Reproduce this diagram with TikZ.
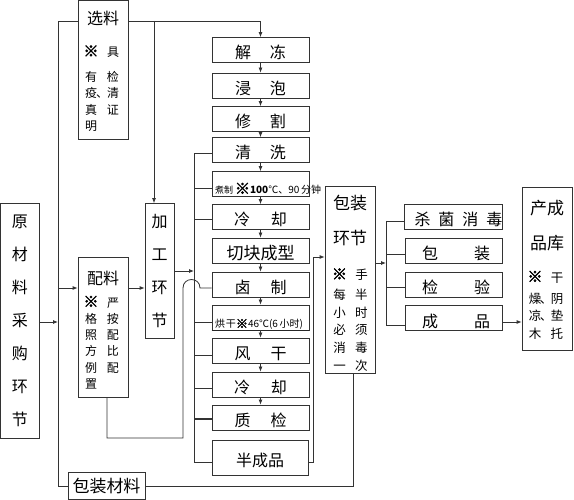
\documentclass[tikz,border=0pt]{standalone}
\usepackage{fontspec}
\setmainfont{Noto Sans CJK SC}
\newfontfamily\kmfont[FakeBold=3]{Noto Sans CJK SC}
\usetikzlibrary{arrows.meta}
\newcommand{\tcol}[3]{\makebox[12pt]{#1}\makebox[10pt]{#2}\makebox[12pt]{#3}}
\newcommand{\kmark}{{\kmfont\fontsize{15}{15}\selectfont ※}}
\begin{document}
\begin{tikzpicture}[x=1pt,y=-1pt,
  line/.style={draw=black!80, line width=0.8pt},
  arr/.style={line, -{Latex[length=5pt,width=4pt]}},
  bx/.style={draw=black!80, line width=0.8pt, inner sep=0pt},
  pbox/.style={bx, minimum width=97, minimum height=25, font=\fontsize{16}{16}\selectfont, text height=18pt, text depth=0pt},
  rbox/.style={bx, minimum width=97, minimum height=25, font=\fontsize{16}{16}\selectfont, text height=19pt, text depth=0pt},
  txt/.style={inner sep=0pt, align=center},
  big/.style={txt, font=\fontsize{16}{16}\selectfont},
  small/.style={txt, align=left, font=\fontsize{12}{16.3}\selectfont}
]
\useasboundingbox (0,0) rectangle (574,500);
\fill[white] (0,0) rectangle (574,500);

% left column boxes
\node[bx, minimum width=50, minimum height=139] (xl) at (103,70) {};
\node[big] (xlh) at (103,18) {选料};
\node[small] (xlt) at (102,88.5) {\tcol{\kmark}{}{具}\\[8.7pt]\tcol{有}{}{检}\\\tcol{疫}{、}{清}\\\tcol{真}{}{证}\\\tcol{明}{}{}};

\node[bx, minimum width=50, minimum height=140] (pl) at (103,327) {};
\node[big] (plh) at (103,278) {配料};
\node[small] (plt) at (102,342.5) {\tcol{\kmark}{}{严}\\\tcol{格}{}{按}\\\tcol{照}{}{配}\\\tcol{方}{}{比}\\\tcol{例}{}{配}\\\tcol{置}{}{}};

\node[bx, minimum width=38.5, minimum height=235, align=center, font=\fontsize{16}{33}\selectfont] (ycl) at (20,320.5) {原\\材\\料\\采\\购\\环\\节};
\node[bx, minimum width=29, minimum height=135, align=center, font=\fontsize{16}{33}\selectfont] (jg) at (159.5,271) {加\\工\\环\\节};
\node[bx, minimum width=77, minimum height=27, font=\fontsize{17}{17}\selectfont] (bzcl) at (106.5,486) {包装材料};

% process stack
\node[pbox] (jd)  at (260.5,50)    {解\hspace{19pt}冻};
\node[pbox] (jp)  at (260.5,85.5)  {浸\hspace{19pt}泡};
\node[pbox] (xg)  at (260.5,119)   {修\hspace{19pt}割};
\node[pbox] (qx)  at (260.5,150)   {清\hspace{19pt}洗};
\node[pbox, text height=20pt] (zz) at (260.5,184) {\makebox[97pt][l]{\hspace{3pt}{\fontsize{9}{9}\selectfont 煮制}\hspace{2pt}{\kmfont\fontsize{15}{15}\selectfont ※}{\fontsize{10}{10}\selectfont\bfseries 100}{\fontsize{10}{10}\selectfont ℃、90\,分钟}}};
\node[pbox] (lqa) at (260.5,217)   {冷\hspace{21pt}却};
\node[pbox, font=\fontsize{17}{17}\selectfont] (qk) at (260.5,250.5) {切块成型};
\node[pbox] (lz)  at (260.5,284.5) {卤\hspace{20pt}制};
\node[pbox, text height=21pt] (hg) at (260.5,317.5) {\makebox[97pt][l]{\hspace{3pt}{\fontsize{10}{10}\selectfont 烘\hspace{1pt}干}{\kmfont\fontsize{12}{12}\selectfont ※}{\fontsize{10}{10}\selectfont 46℃(6\,小时)}}};
\node[pbox] (fg)  at (260.5,350.5) {风\hspace{20pt}干};
\node[pbox] (lqb) at (260.5,384.5) {冷\hspace{21pt}却};
\node[pbox] (zj)  at (260.5,417.5) {质\hspace{20pt}检};
\node[pbox, minimum width=96, minimum height=35, text height=17pt] (bcp) at (260,457.5) {半成品};
\draw[line width=1.6pt, black!85] (hg.south west) -- (hg.south east);

% packaging
\node[bx, minimum width=50, minimum height=187] (bzhj) at (350,279.5) {};
\node[txt, font=\fontsize{17}{17}\selectfont] (bzh1) at (350,203) {包装};
\node[txt, font=\fontsize{17}{17}\selectfont] (bzh2) at (350,238) {环节};
\node[txt, align=left, font=\fontsize{12.5}{17.8}\selectfont] (bzt) at (350.5,320) {\tcol{\kmark}{}{手}\\[2pt]\tcol{每}{}{半}\\\tcol{小}{}{时}\\\tcol{必}{}{须}\\\tcol{消}{}{毒}\\\tcol{一}{}{次}};

% right boxes
\node[rbox] (sj) at (453.5,216.5) {\hspace{10pt}杀\hspace{8pt}菌\hspace{8pt}消\hspace{8pt}毒};
\node[rbox] (bz) at (453.5,250.5) {\hspace{5pt}包\hspace{36pt}装};
\node[rbox] (jy) at (453.5,284.5) {\hspace{5pt}检\hspace{36pt}验};
\node[rbox] (cp) at (453.5,317.5) {\hspace{5pt}成\hspace{36pt}品};

\node[bx, minimum width=50, minimum height=163] (cck) at (547,268.5) {};
\node[txt, font=\fontsize{17}{17}\selectfont] (ck1) at (547,208) {产成};
\node[txt, font=\fontsize{17}{17}\selectfont] (ck2) at (547,243) {品库};
\node[txt, align=left, font=\fontsize{12.5}{17.5}\selectfont] (ckt) at (546,305) {\tcol{\kmark}{}{干}\\[3.5pt]\tcol{燥}{、}{阴}\\\tcol{凉}{、}{垫}\\\tcol{木}{}{托}};

% named coordinates
\coordinate (ytop) at (0,21);
\coordinate (lbus) at (58,0);
\coordinate (cj) at (154,21);
\coordinate (ya) at (0,322);
\coordinate (pa) at (0,288);
\coordinate (ja) at (0,271);
\coordinate (bl) at (194,0);
\coordinate (bb) at (0,462);
\coordinate (br) at (313,0);
\coordinate (pb) at (0,257);
\coordinate (pk) at (353,0);
\coordinate (pd) at (107,0);
\coordinate (hx) at (183,0);
\coordinate (hy) at (0,438);
\coordinate (b3) at (386,0);
\coordinate (hs) at (200,288);

% connectors
\draw[arr] (xl.east |- ytop) -| (jd.north);
\draw[arr] (cj) -- (cj |- jg.north);
\draw[line] (xl.west |- ytop) -| (lbus |- bzcl.west) -- (bzcl.west);
\draw[line] (bzcl.east) -| (pk |- bzhj.south);
\draw[arr] (ycl.east |- ya) -- (lbus |- ya);
\draw[arr] (lbus |- pa) -- (pl.west |- pa);
\draw[arr] (pl.east |- pa) -- (jg.west |- pa);
\draw[arr] (jg.east |- ja) -- (bl |- ja);

\foreach \a/\b in {jd/jp, jp/xg, xg/qx, qx/zz, zz/lqa, lqa/qk, qk/lz, lz/hg, hg/fg, fg/lqb, lqb/zj}
  \draw[arr] (\a.south) -- (\b.north);

\draw[line] (qx.west |- 0,153) -| (bl |- bb) -- (bcp.west |- bb);
\foreach \n/\yy in {zz/188, lqa/219, hg/322, fg/355, lqb/388}
  \draw[line] (bl |- 0,\yy) -- (\n.west |- 0,\yy);
\draw[line, line width=1.6pt] (bl |- 0,419) -- (zj.west |- 0,419);

\draw[arr] (bcp.east |- bb) -| (br |- pb) -- (bzhj.west |- pb);

\draw[line] (pd |- pl.south) -- (pd |- hy) -- (hx |- hy) -- (hx |- hs) .. controls (183,276.7) and (200,276.7) .. (hs) -- (lz.west |- hs);

\draw[arr] (bzhj.east |- 0,263) -- (b3 |- 0,263);
\draw[line] (b3 |- 0,221) -- (b3 |- 0,325);
\foreach \n/\yy in {sj/221, bz/254, jy/287, cp/325}
  \draw[line] (b3 |- 0,\yy) -- (\n.west |- 0,\yy);
\draw[arr] (cp.east |- 0,322) -- (cck.west |- 0,322);
\end{tikzpicture}
\end{document}
